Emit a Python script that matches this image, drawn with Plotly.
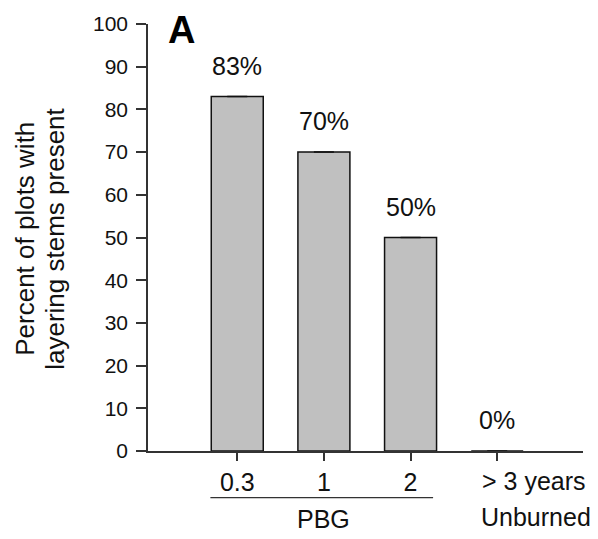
import plotly.graph_objects as go

categories = ["0.3", "1", "2", "> 3 years"]
category_line2 = ["", "", "", "Unburned"]
percent_present = [83, 70, 50, 0]
error_values = [0, 0, 0, 0]
bar_labels = ["83%", "70%", "50%", "0%"]
y_ticks = [0, 10, 20, 30, 40, 50, 60, 70, 80, 90, 100]
y_title_lines = ["Percent of plots with", "layering stems present"]
group_label = "PBG"
panel_label = "A"

xpos = list(range(len(categories)))
FONT = "Liberation Sans, Arial, sans-serif"
INK = "#111111"

fig = go.Figure()
fig.add_trace(go.Bar(
    x=xpos, y=percent_present, width=0.6,
    marker=dict(color="#c0c0c0", line=dict(color=INK, width=1.5)),
    error_y=dict(type="data", array=error_values, visible=True,
                 color=INK, thickness=1.5, width=10),
    showlegend=False,
))

for xi, v, lab in zip(xpos, percent_present, bar_labels):
    fig.add_annotation(x=xi, y=v, text=lab, showarrow=False, yshift=31,
                       font=dict(size=25, color=INK, family=FONT))

fig.add_annotation(x=0, y=1.0, xref="paper", yref="paper", text="<b>%s</b>" % panel_label,
                   showarrow=False, xanchor="center", yanchor="middle",
                   xshift=33, yshift=-6,
                   font=dict(size=38, color="#000000", family=FONT))

# Y-axis title (two lines)
for i, line in enumerate(y_title_lines):
    fig.add_annotation(x=0, y=0.497, xref="paper", yref="paper", text=line,
                       showarrow=False, textangle=-90, xanchor="center", yanchor="middle",
                       xshift=-123 + 30 * i,
                       font=dict(size=26, color=INK, family=FONT))

# Last category label, two lines, offset to the right as in the reference
last = len(categories) - 1
fig.add_annotation(x=last, y=0, xref="x", yref="paper", text=categories[last],
                   showarrow=False, yanchor="middle", xshift=37, yshift=-30,
                   font=dict(size=25, color=INK, family=FONT))
fig.add_annotation(x=last, y=0, xref="x", yref="paper", text=category_line2[last],
                   showarrow=False, yanchor="middle", xshift=39, yshift=-66,
                   font=dict(size=25, color=INK, family=FONT))

# PBG grouping line and label
fig.add_shape(type="line", xref="x", yref="paper", x0=-0.31, x1=2.26,
              y0=-0.109, y1=-0.109, line=dict(color="#333333", width=1.3))
fig.add_annotation(x=1, y=0, xref="x", yref="paper", text=group_label,
                   showarrow=False, yanchor="middle", yshift=-68,
                   font=dict(size=25, color=INK, family=FONT))

fig.update_layout(
    width=598, height=539,
    margin=dict(l=148, r=15, t=20, b=88),
    plot_bgcolor="white", paper_bgcolor="white",
    font=dict(family=FONT, color=INK),
)
fig.update_xaxes(
    range=[-1.03, 3.99], tickvals=xpos, ticktext=categories[:last] + [""],
    showline=True, linecolor="#333333", linewidth=1.5,
    ticks="outside", ticklen=8, tickwidth=1.5, tickcolor="#333333",
    tickfont=dict(size=25, color=INK), showgrid=False, zeroline=False,
)
fig.update_yaxes(
    range=[0, 100], tickvals=y_ticks,
    showline=True, linecolor="#333333", linewidth=1.5,
    ticks="outside", ticklen=10, tickwidth=1.5, tickcolor="#333333",
    ticklabelstandoff=4,
    tickfont=dict(size=21, color=INK), showgrid=False, zeroline=False,
)

fig.write_html("out.html")
